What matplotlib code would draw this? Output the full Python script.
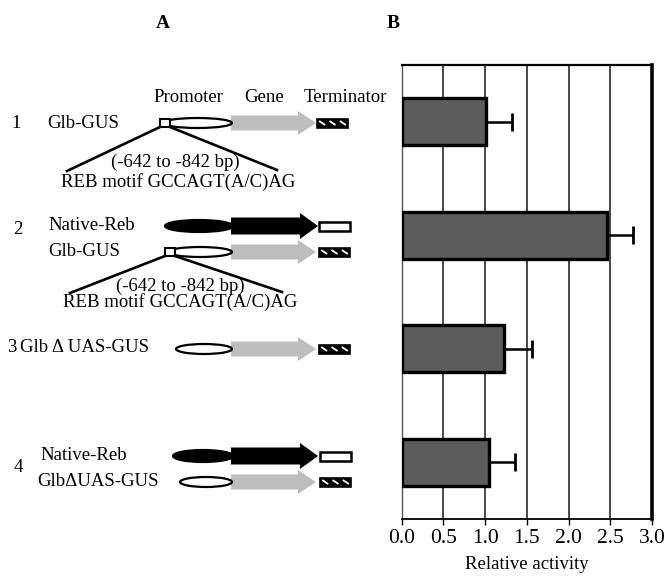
import matplotlib
matplotlib.use("Agg")
import matplotlib.pyplot as plt
from matplotlib.patches import Ellipse, Rectangle, Polygon

plt.rcParams['font.family'] = ['Liberation Serif', 'DejaVu Serif']

# ---- data ----
constructs = ["1", "2", "3", "4"]
activity = [1.01, 2.46, 1.23, 1.05]
activity_err = [0.31, 0.31, 0.33, 0.31]
xticks = [0.0, 0.5, 1.0, 1.5, 2.0, 2.5, 3.0]
xtick_labels = ["0.0", "0.5", "1.0", "1.5", "2.0", "2.5", "3.0"]
xlabel = "Relative activity"

W, H = 668, 578
fig = plt.figure(figsize=(W / 100, H / 100), dpi=100)

# ---- panel A: construct diagram (pixel coordinates) ----
d = fig.add_axes([0, 0, 1, 1])
d.set_xlim(0, W)
d.set_ylim(H, 0)
d.axis('off')

FS = 13.5
GRAY = '#bdbdbd'


def txt(x, y, s, ha='left', **kw):
    d.text(x, y, s, ha=ha, va='center', fontsize=FS, **kw)


def arrow(x0, x1, y, shaft, head, headlen, color):
    pts = [(x0, y - shaft), (x1 - headlen, y - shaft), (x1 - headlen, y - head),
           (x1, y), (x1 - headlen, y + head), (x1 - headlen, y + shaft), (x0, y + shaft)]
    d.add_patch(Polygon(pts, closed=True, facecolor=color, edgecolor='none', zorder=2))


def ellipse(x0, x1, y, h, filled):
    d.add_patch(Ellipse(((x0 + x1) / 2, y), x1 - x0, h,
                        facecolor='black' if filled else 'white',
                        edgecolor='black', lw=1.6, zorder=3))


def term_hatched(x0, x1, y, h):
    d.add_patch(Rectangle((x0, y - h / 2), x1 - x0, h, facecolor='black',
                          edgecolor='black', lw=1.2, zorder=3))
    w = x1 - x0
    for k in range(3):
        cx = x0 + w * (k + 0.5) / 3
        d.plot([cx - 3, cx + 3], [y - 2, y + 2], color='white', lw=1.3,
               solid_capstyle='butt', zorder=4)


def term_white(x0, x1, y, h):
    d.add_patch(Rectangle((x0, y - h / 2), x1 - x0, h, facecolor='white',
                          edgecolor='black', lw=1.8, zorder=3))


def motif_box(x0, x1, y, h):
    d.add_patch(Rectangle((x0, y - h / 2), x1 - x0, h, facecolor='white',
                          edgecolor='black', lw=1.5, zorder=4))


def glb_gus(y, ex0, box=None, tx1=350):
    ellipse(ex0, 232, y, 10, False)
    arrow(231, 316, y, 7.5, 12, 18, GRAY)
    term_hatched(tx1 - 31, tx1, y, 9)
    if box:
        motif_box(box, box + 10, y, 8)


def native_reb(y, ex0, tx1=350):
    ellipse(ex0, 233, y, 12, True)
    arrow(231, 318, y, 8.5, 13, 18, 'black')
    term_white(tx1 - 31, tx1, y, 9)


d.text(163, 23, "A", ha='center', va='center', fontsize=14, fontweight='bold')
d.text(393, 23, "B", ha='center', va='center', fontsize=14, fontweight='bold')

# headers
txt(188, 97, "Promoter", ha='center')
txt(264, 97, "Gene", ha='center')
txt(345, 97, "Terminator", ha='center')

# row 1
txt(11, 123, constructs[0])
txt(47, 123, "Glb-GUS")
glb_gus(123, 163, box=160, tx1=348)
d.plot([160, 67], [127, 171], color='black', lw=1.9, zorder=1)
d.plot([170, 277], [127, 170], color='black', lw=1.9, zorder=1)
txt(175, 162, "(-642 to -842 bp)", ha='center')
txt(178, 182, "REB motif GCCAGT(A/C)AG", ha='center')

# row 2
txt(13, 230, constructs[1])
txt(48, 225, "Native-Reb")
native_reb(226, 165)
txt(48, 252, "Glb-GUS")
glb_gus(252, 168, box=165)
d.plot([165, 70], [256, 293], color='black', lw=1.9, zorder=1)
d.plot([175, 282], [256, 292], color='black', lw=1.9, zorder=1)
txt(180, 286, "(-642 to -842 bp)", ha='center')
txt(180, 302, "REB motif GCCAGT(A/C)AG", ha='center')

# row 3
txt(7, 348, constructs[2])
txt(20, 348, "Glb \u0394 UAS-GUS")
glb_gus(349, 176)

# row 4
txt(14, 468, constructs[3])
txt(40, 456, "Native-Reb")
native_reb(456, 173, tx1=351)
txt(37, 482, "Glb\u0394UAS-GUS")
glb_gus(482, 180, tx1=351)

# ---- panel B: bar chart ----
ax = fig.add_axes([401.7 / W, (H - 519) / H, (652 - 401.7) / W, (519 - 65) / H])
ypos = list(range(1, len(constructs) + 1))
ax.barh(ypos, activity, height=0.41, left=0, color='#5c5c5c',
        edgecolor='black', linewidth=2.4, zorder=3)
ax.errorbar(activity, ypos,
            xerr=[[0] * len(activity), activity_err], fmt='none', ecolor='black',
            elinewidth=1.8, capsize=6.5, capthick=2.0, zorder=4)
ax.set_xlim(0, 3.0)
ax.set_ylim(4.5, 0.5)
ax.set_xticks(xticks)
ax.set_xticklabels(xtick_labels, fontsize=15.5)
ax.set_yticks([])
for xv in xticks[1:-1]:
    ax.axvline(xv, color='#3a3a3a', lw=1.3, zorder=1)
ax.tick_params(axis='x', direction='out', length=4, width=1, pad=3)
ax.set_xlabel(xlabel, fontsize=FS, labelpad=6)
ax.spines['top'].set_linewidth(1.6)
ax.spines['right'].set_linewidth(2.6)
ax.spines['left'].set_linewidth(1.0)
ax.spines['left'].set_color('#555555')
ax.spines['bottom'].set_linewidth(1.3)
ax.patch.set_alpha(0)

fig.savefig("out.png", dpi=100)
